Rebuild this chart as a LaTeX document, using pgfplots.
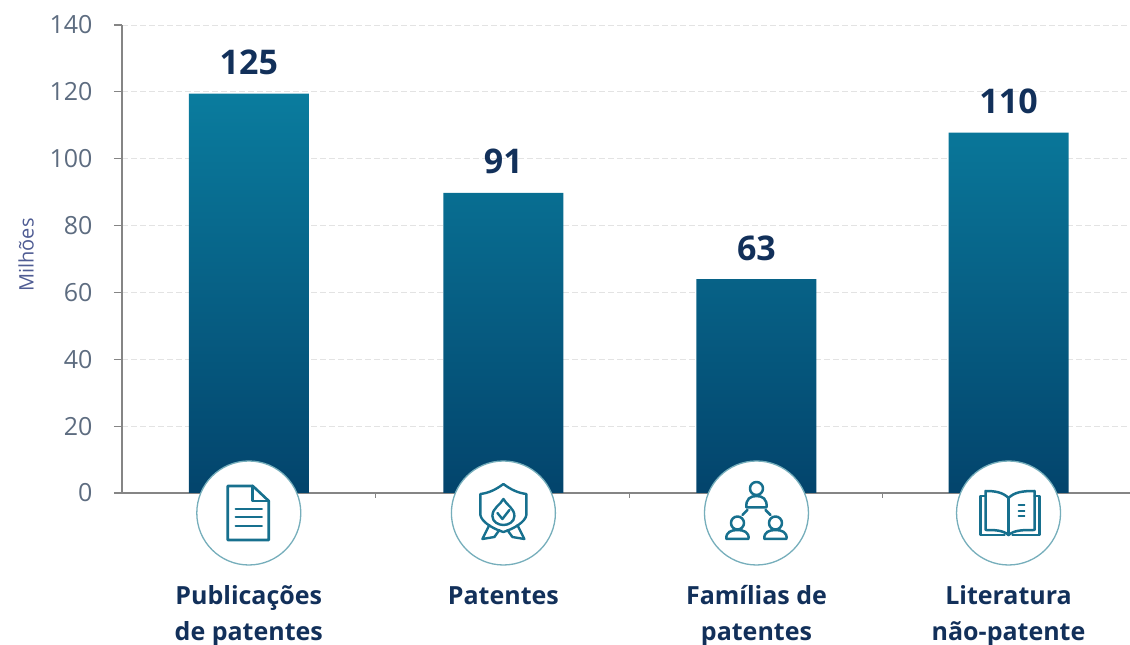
\documentclass[border=0pt]{standalone}
\usepackage{fontspec}
\setmainfont{Open Sans}
\usepackage{pgfplots}
\usepackage{pgfplotstable}
\pgfplotsset{compat=1.18}
\definecolor{tick}{HTML}{5D6C80}
\definecolor{navy}{HTML}{12305A}
\definecolor{bartop}{HTML}{0A7C9E}
\definecolor{barbot}{HTML}{03446C}
\definecolor{icon}{HTML}{17708E}
\definecolor{ring}{HTML}{76AEBB}
\pgfplotstableread{
x h label
0 119.5 125
1.004 89.8 91
2.002 64 63
2.996 107.8 110
}\bars
\begin{document}
\begin{tikzpicture}[x=1pt,y=1pt]
\path[use as bounding box] (0,0) rectangle (1130,645);
\begin{axis}[
  at={(122pt,152pt)}, anchor=south west,
  scale only axis, width=1008pt, height=468pt,
  xmin=-0.5, xmax=3.475, ymin=0, ymax=140,
  axis x line*=bottom, axis y line*=left,
  axis line style={draw=black!48,line width=1.3pt,-},
  clip=false,
  xtick={0,1.004,2.002,2.996},
  xticklabels={{\strut Publicações\\de patentes},{\strut Patentes},{\strut Famílias de\\patentes},{\strut Literatura\\não-patente}},
  minor xtick={0.5,1.5,2.5},
  ytick={0,20,...,140},
  tick align=outside,
  major tick length=8pt,
  minor tick length=5pt,
  x tick style={draw=none},
  minor x tick style={draw=black!48,line width=1pt},
  y tick style={draw=black!48,line width=1.2pt},
  ymajorgrids,
  grid style={draw=black!11,dash pattern=on 6pt off 3pt,line width=0.9pt},
  tick label style={font=\fontsize{25}{29}\selectfont,text=tick},
  yticklabel style={xshift=-18pt},
  /pgf/number format/assume math mode=true,
  xticklabel style={font=\fontsize{25}{36}\selectfont\bfseries,text=navy,align=center,anchor=north,yshift=-75pt},
  ylabel={Milhões},
  every axis y label/.style={at={(axis description cs:-0.0952,0.5085)},rotate=90,anchor=center,font=\fontsize{20}{24}\selectfont,text=tick!85!blue},
]
\addplot[ybar,bar width=120pt,draw=none,top color=bartop,bottom color=barbot,
  point meta=explicit symbolic,
  nodes near coords,
  every node near coord/.style={font=\fontsize{34}{38}\selectfont\bfseries,text=navy,anchor=south,yshift=15pt}]
  table[x=x,y=h,meta=label]{\bars};
\coordinate (c0) at (axis cs:0,0);
\coordinate (c1) at (axis cs:1.004,0);
\coordinate (c2) at (axis cs:2.002,0);
\coordinate (c3) at (axis cs:2.996,0);
\end{axis}
% icon discs
\foreach \c in {c0,c1,c2,c3}{
  \fill[white] ([yshift=-20pt]\c) circle (52pt);
  \draw[ring,line width=1.3pt] ([yshift=-20pt]\c) circle (52pt);
}
\begin{scope}[shift={([yshift=-20pt]c0)},y=-1pt,icon,line width=2.6pt,line join=round,line cap=round]
  \draw (-21,-27) -- (4,-27) -- (20,-12) -- (20,27) -- (-21,27) -- cycle;
  \draw (4,-27) -- (4,-12) -- (20,-12);
  \draw (-13,-4) -- (13,-4) (-13,4) -- (13,4) (-13,13) -- (13,13);
\end{scope}
\begin{scope}[shift={([yshift=-20pt]c1)},y=-1pt,icon,line width=2.4pt,line join=round,line cap=round]
  \draw (0,-29) .. controls (-8,-23) and (-15,-20) .. (-23,-19) -- (-23,2) .. controls (-22,9) and (-10,16) .. (0,19) .. controls (10,16) and (22,9) .. (23,2) -- (23,-19) .. controls (15,-20) and (8,-23) .. (0,-29) -- cycle;
  \draw (0,-14) .. controls (-3,-8) and (-11,-5) .. (-11,3) .. controls (-11,9) and (-5,12) .. (0,12) .. controls (5,12) and (11,9) .. (11,3) .. controls (11,-5) and (3,-8) .. (0,-14) -- cycle;
  \draw (-6,0) -- (-1,6) -- (6,-3);
  \draw (-14,12) -- (-21,26) -- (-9,24) -- (-4,17);
  \draw (14,12) -- (21,26) -- (9,24) -- (4,17);
\end{scope}
\begin{scope}[shift={([yshift=-20pt]c2)},y=-1pt,icon,line width=2.5pt,line join=round,line cap=round]
  \draw (0,-24.5) circle (6.5);
  \draw (-10,-5.5) .. controls (-11,-14) and (-6,-17) .. (0,-17) .. controls (6,-17) and (11,-14) .. (10,-5.5) -- cycle;
  \foreach \d in {-19,19}{
    \draw (\d,10) circle (6.5);
    \draw (\d-11,26) .. controls (\d-12,19) and (\d-6,17) .. (\d,17) .. controls (\d+6,17) and (\d+12,19) .. (\d+11,26) -- cycle;
  }
  \draw (-9,-3) -- (-14,2) (9,-3) -- (14,2);
\end{scope}
\begin{scope}[shift={([yshift=-20pt]c3)},y=-1pt,icon,line width=2.5pt,line join=round,line cap=round]
  \draw (0,-15) .. controls (-6,-21) and (-14,-22) .. (-23,-22) -- (-23,17) .. controls (-14,17) and (-6,17) .. (0,22) .. controls (6,17) and (14,17) .. (26,17) -- (26,-22) .. controls (14,-22) and (6,-21) .. (0,-15) -- cycle;
  \draw (0,-15) -- (0,22);
  \draw (-23,-17) -- (-28,-17) -- (-28,22) -- (-4,22) (26,-17) -- (31,-17) -- (31,22) -- (4,22);
  \draw[line width=1.8pt] (10,-8) -- (16,-8) (10,-2) -- (16,-2) (10,3) -- (16,3);
\end{scope}
\end{tikzpicture}
\end{document}
